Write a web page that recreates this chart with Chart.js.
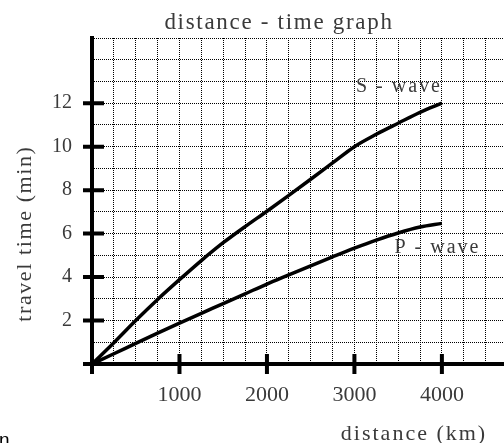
<!DOCTYPE html>
<html>
<head>
<meta charset="utf-8">
<script src="https://cdn.jsdelivr.net/npm/chart.js@4.4.1/dist/chart.umd.min.js"></script>
<style>
  html, body { margin: 0; padding: 0; background: #fff; }
  #wrap { width: 504px; height: 443px; position: relative; }
</style>
</head>
<body>
<div id="wrap"><canvas id="myChart"></canvas></div>
<script>
// data
var distances = [0, 250, 500, 750, 1000, 1250, 1500, 1750, 2000, 2250, 2500, 2750, 3000, 3250, 3500, 3750, 4000];
var sWave = [0, 0.98, 2.0, 2.97, 3.88, 4.76, 5.58, 6.32, 7.03, 7.76, 8.5, 9.25, 10.0, 10.57, 11.08, 11.58, 12.0];
var pWave = [0, 0.47, 0.95, 1.42, 1.88, 2.33, 2.78, 3.23, 3.68, 4.1, 4.52, 4.93, 5.33, 5.7, 6.03, 6.3, 6.47];
var xTickLabels = [1000, 2000, 3000, 4000];
var yTickLabels = [2, 4, 6, 8, 10, 12];
var xGridStep = 250;
var yGridStep = 1;

var chartTitle = 'distance - time graph';
var xTitle = 'distance (km)';
var yTitle = 'travel time (min)';

var serif = '"Liberation Serif", "Times New Roman", serif';
var textColor = '#3a3a3a';

function toPoints(ys) {
  return distances.map(function (d, i) { return { x: d, y: ys[i] }; });
}

// grid ticks every step, without the odd max value at the edge
function stepTicks(step) {
  return function (scale) {
    var t = [];
    for (var v = scale.min; v <= scale.max + 1e-9; v += step) t.push({ value: v });
    scale.ticks = t;
  };
}

// thick tick marks that cross the axes
var crossTicks = {
  id: 'crossTicks',
  afterDatasetsDraw: function (chart) {
    var c = chart.ctx, xs = chart.scales.x, ys = chart.scales.y;
    var x0 = xs.getPixelForValue(0), y0 = ys.getPixelForValue(0);
    c.save();
    c.strokeStyle = '#000';
    c.lineWidth = 4;
    c.beginPath();
    [0].concat(xTickLabels).forEach(function (v) {
      var px = xs.getPixelForValue(v);
      c.moveTo(px, y0 - 10);
      c.lineTo(px, y0 + 10);
    });
    [0].concat(yTickLabels).forEach(function (v) {
      var py = ys.getPixelForValue(v);
      c.moveTo(x0 - 9, py);
      c.lineTo(x0 + 12, py);
    });
    c.stroke();
    c.restore();
  }
};

// titles and curve labels
var texts = {
  id: 'texts',
  afterDraw: function (chart) {
    var c = chart.ctx, xs = chart.scales.x, ys = chart.scales.y;
    c.save();
    c.fillStyle = textColor;
    c.textBaseline = 'alphabetic';

    c.letterSpacing = '1.7px';
    c.font = '23px ' + serif;
    c.textAlign = 'center';
    c.fillText(chartTitle, 279, 29);

    c.letterSpacing = '2px';
    c.font = '22px ' + serif;
    c.fillText(xTitle, 414, 440);

    c.save();
    c.translate(31, (ys.getPixelForValue(0) + ys.getPixelForValue(12)) / 2);
    c.rotate(-Math.PI / 2);
    c.letterSpacing = '1.6px';
    c.fillText(yTitle, 0, 0);
    c.restore();

    c.letterSpacing = '2px';
    c.font = '20px ' + serif;
    c.textAlign = 'right';
    c.fillText('S - wave', xs.getPixelForValue(4000), ys.getPixelForValue(12.5));
    c.fillText('P - wave', xs.getPixelForValue(4440), ys.getPixelForValue(5.1));

    c.letterSpacing = '0px';
    c.fillStyle = '#000';
    c.textAlign = 'left';
    c.font = '19px "Liberation Sans", Arial, sans-serif';
    c.fillText('n', -1, 446);
    c.restore();
  }
};

var ctx = document.getElementById('myChart');

var timeData = {
  datasets: [{
    label: 'S - wave',
    data: toPoints(sWave),
    borderColor: '#000',
    borderWidth: 3.5,
    pointRadius: 0,
    cubicInterpolationMode: 'monotone',
    fill: false
  }, {
    label: 'P - wave',
    data: toPoints(pWave),
    borderColor: '#000',
    borderWidth: 3.5,
    pointRadius: 0,
    cubicInterpolationMode: 'monotone',
    fill: false
  }]
};

var chartOptions = {
  responsive: true,
  maintainAspectRatio: false,
  animation: false,
  layout: { padding: { top: 38, right: 0, left: 0, bottom: 0 } },
  plugins: {
    legend: { display: false },
    title: { display: false },
    tooltip: { enabled: false }
  },
  scales: {
    x: {
      type: 'linear',
      min: 0,
      max: 4710,
      afterBuildTicks: stepTicks(xGridStep),
      afterFit: function (s) { s.height = 79; },
      grid: { color: '#000', lineWidth: 1, drawTicks: true, tickLength: 18, tickColor: 'rgba(0,0,0,0)' },
      border: { display: true, color: '#000', width: 4, dash: [1, 1] },
      ticks: {
        autoSkip: false,
        maxRotation: 0,
        padding: 0,
        color: textColor,
        font: { family: serif, size: 22 },
        callback: function (v) { return xTickLabels.indexOf(v) >= 0 ? String(v) : ''; }
      }
    },
    y: {
      type: 'linear',
      min: 0,
      max: 15,
      afterBuildTicks: stepTicks(yGridStep),
      afterFit: function (s) { s.width = 92; },
      grid: { color: '#000', lineWidth: 1, drawTicks: false },
      border: { display: true, color: '#000', width: 4, dash: [1, 1] },
      ticks: {
        autoSkip: false,
        padding: 20,
        color: textColor,
        font: { family: serif, size: 20 },
        callback: function (v) { return yTickLabels.indexOf(v) >= 0 ? String(v) : ''; }
      }
    }
  }
};

var lineChart = new Chart(ctx, {
  type: 'line',
  data: timeData,
  options: chartOptions,
  plugins: [crossTicks, texts]
});
</script>
</body>
</html>
